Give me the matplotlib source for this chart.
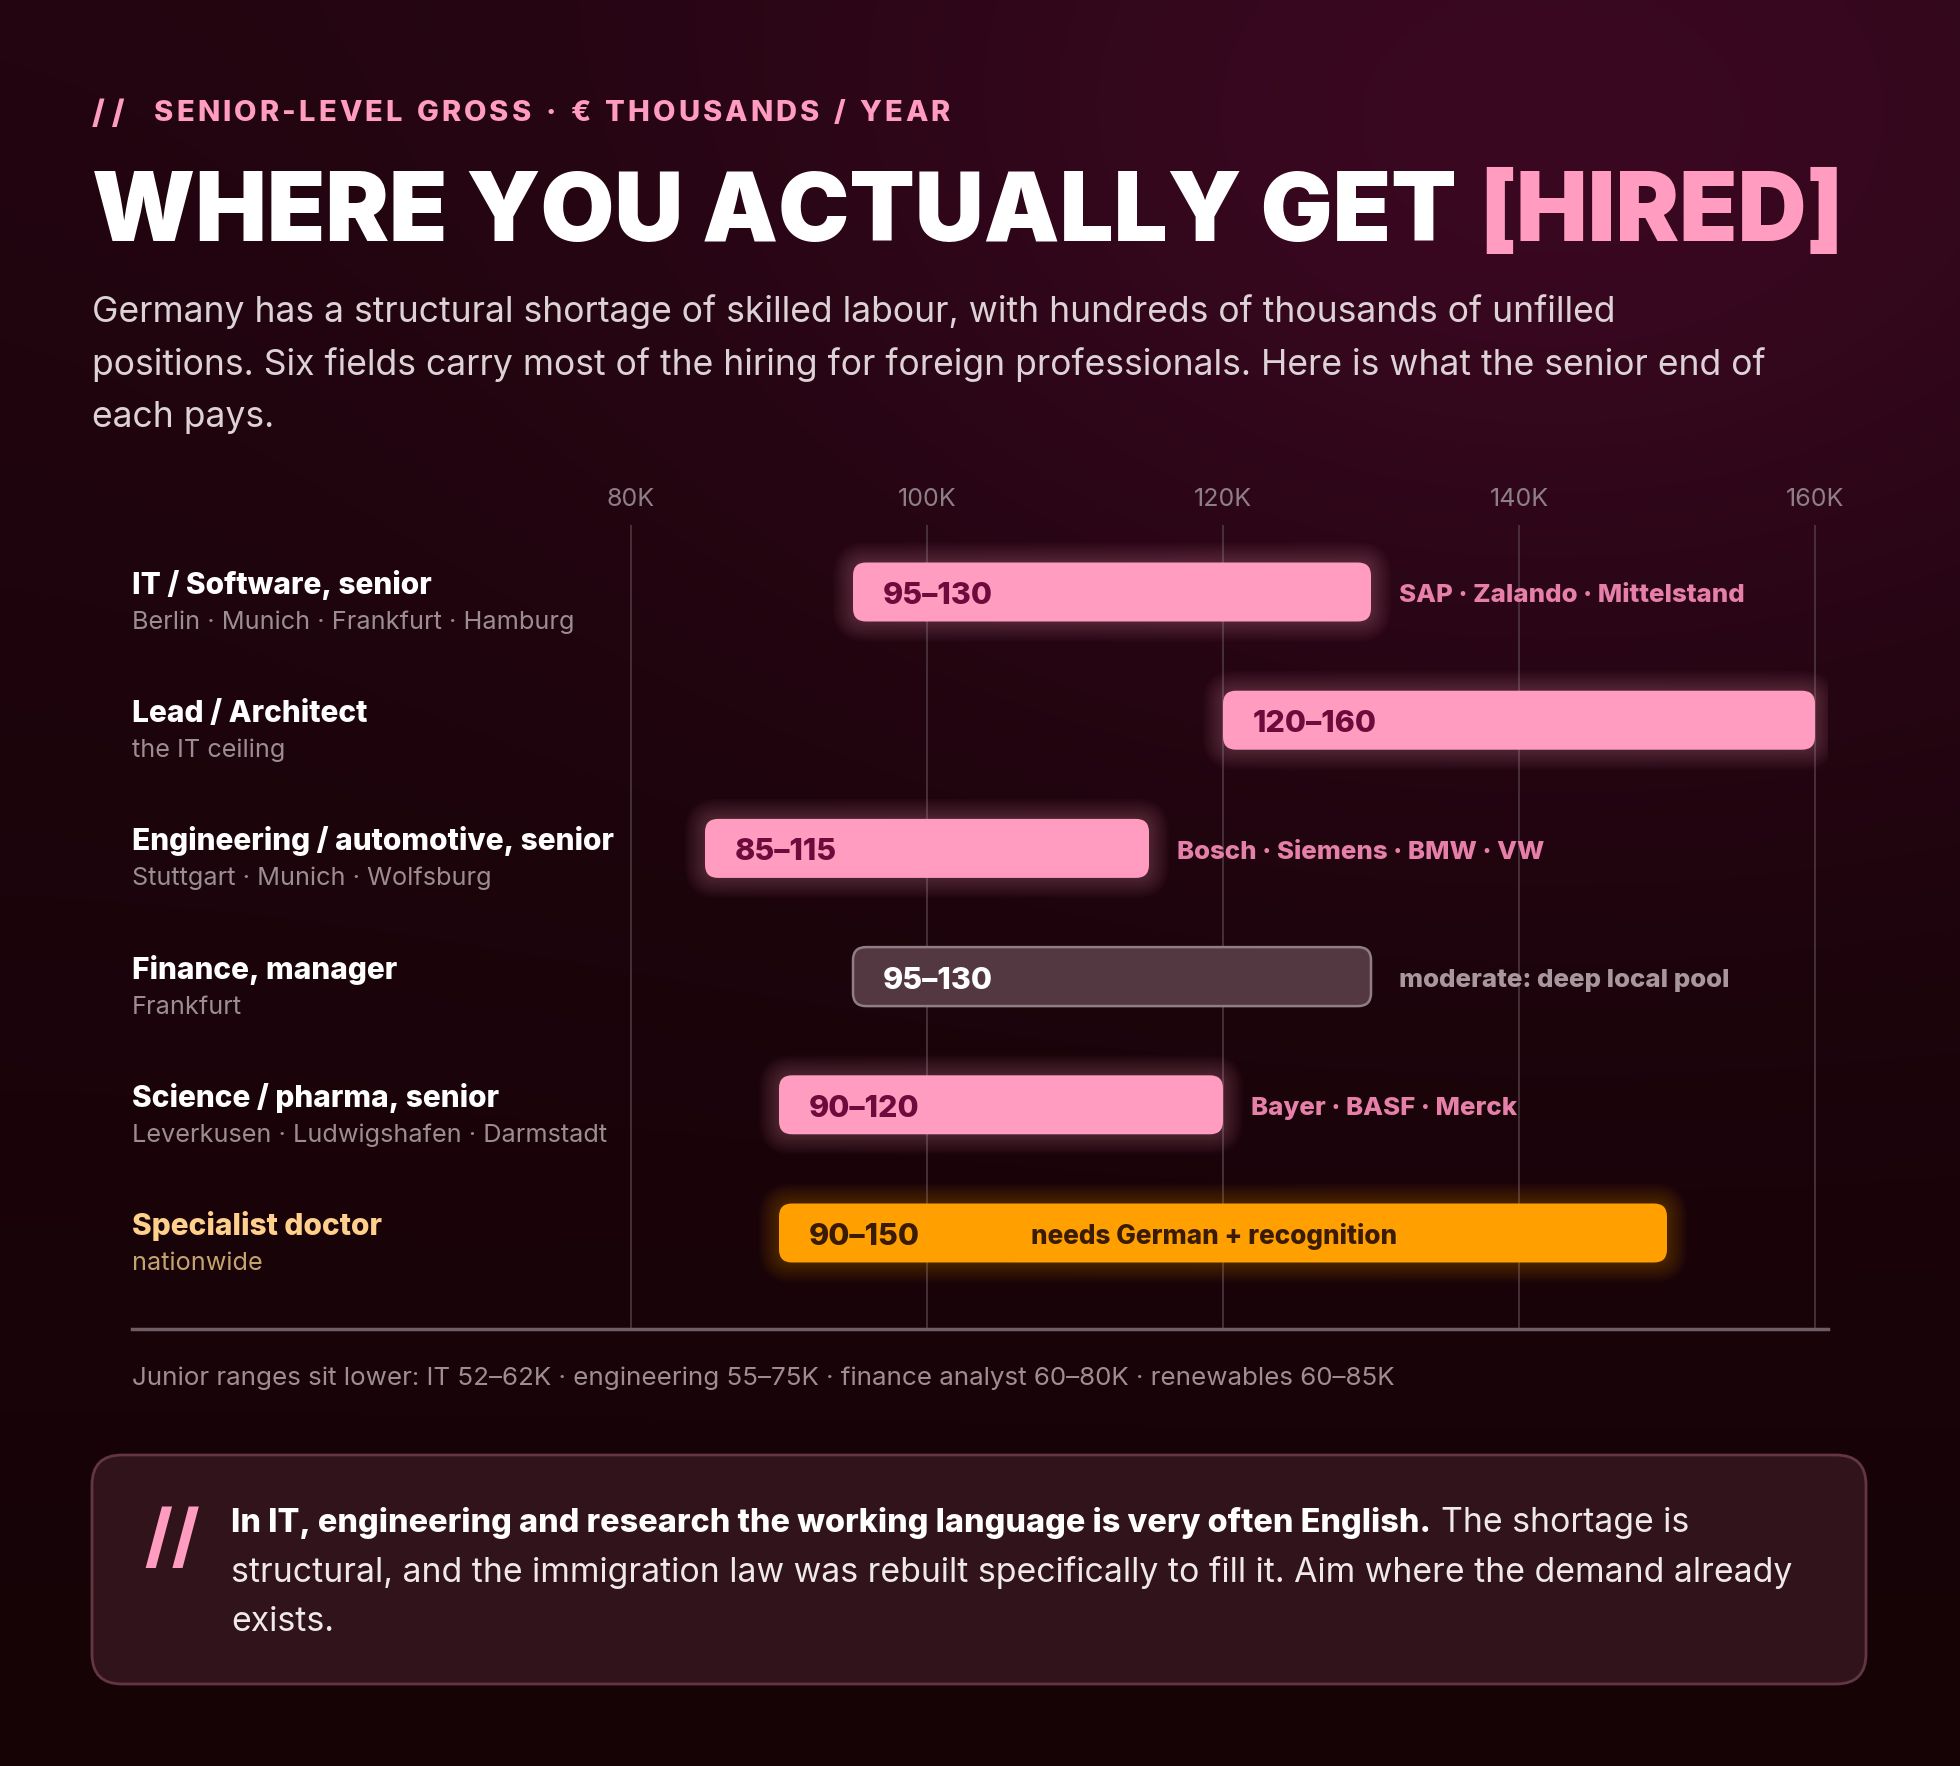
import matplotlib
matplotlib.use('Agg')
import matplotlib.pyplot as plt
import matplotlib.transforms as mtransforms
import numpy as np
from matplotlib.patches import FancyBboxPatch

W, H, DPI = 1960, 1766, 100
FONT = 'Inter'

# data
categories = ['IT / Software, senior', 'Lead / Architect', 'Engineering / automotive, senior',
              'Finance, manager', 'Science / pharma, senior', 'Specialist doctor']
locations = ['Berlin · Munich · Frankfurt · Hamburg', 'the IT ceiling', 'Stuttgart · Munich · Wolfsburg',
             'Frankfurt', 'Leverkusen · Ludwigshafen · Darmstadt', 'nationwide']
low = [95, 120, 85, 95, 90, 90]
high = [130, 160, 115, 130, 120, 150]
notes = ['SAP · Zalando · Mittelstand', '', 'Bosch · Siemens · BMW · VW',
         'moderate: deep local pool', 'Bayer · BASF · Merck', 'needs German + recognition']
kinds = ['hot', 'hot', 'hot', 'moderate', 'hot', 'doctor']
ticks = [80, 100, 120, 140, 160]
tick_labels = ['80K', '100K', '120K', '140K', '160K']

PINK = '#ff9cc0'
ORANGE = '#ffa000'

fig = plt.figure(figsize=(W / DPI, H / DPI), dpi=DPI)
renderer = fig.canvas.get_renderer()

# background in pixel coords
bg = fig.add_axes([0, 0, 1, 1])
bg.set_xlim(0, W)
bg.set_ylim(H, 0)
bg.axis('off')
yy, xx = np.mgrid[0:H:6, 0:W:6]
top = np.array([0x22, 0x05, 0x10]) / 255
bot = np.array([0x15, 0x03, 0x06]) / 255
hot = np.array([0x3a, 0x08, 0x21]) / 255
v = (yy / H)[..., None]
base = top * (1 - v) + bot * v
d2 = ((xx - 1550) / 1000.0) ** 2 + ((yy - 120) / 700.0) ** 2
g = np.exp(-d2 * 1.6)[..., None]
img = base * (1 - g) + hot * g
bg.imshow(img, extent=(0, W, H, 0), aspect='auto', interpolation='bilinear', zorder=0)


def width_px(t):
    return t.get_window_extent(renderer).width


def fit_size(text, target, **kw):
    t = bg.text(0, 0, text, fontsize=20, **kw)
    w = width_px(t)
    t.remove()
    return 20 * target / w


# kicker with letter spacing
kick = 'SENIOR-LEVEL GROSS · € THOUSANDS / YEAR'
bg.text(92, 123, '/ /', fontsize=23, fontweight='heavy', family=FONT, color=PINK)
ks = 21
chars = []
nat = 0
for ch in kick:
    t = bg.text(0, 0, ch, fontsize=ks, fontweight='heavy', family=FONT)
    w = width_px(t) if ch != ' ' else ks * 0.28 * DPI / 72
    t.remove()
    chars.append((ch, w))
    nat += w
track = (950 - 154 - nat) / (len(kick) - 1)
x = 154
for ch, w in chars:
    if ch != ' ':
        bg.text(x, 121, ch, fontsize=ks, fontweight='heavy', family=FONT, color=PINK)
    x += w + track

# title
part1 = 'WHERE YOU ACTUALLY GET'
tsize = fit_size(part1, 1362, fontweight='black', family=FONT)
bg.text(92, 241, part1, fontsize=tsize, fontweight='black', family=FONT, color='white')
bg.text(1479, 241, '[HIRED]', fontsize=tsize, fontweight='black', family=FONT, color=PINK)

# description
desc = ['Germany has a structural shortage of skilled labour, with hundreds of thousands of unfilled',
        'positions. Six fields carry most of the hiring for foreign professionals. Here is what the senior end of',
        'each pays.']
dsize = fit_size(desc[0], 1525, family=FONT)
for i, line in enumerate(desc):
    bg.text(92, 322 + i * 52.5, line, fontsize=dsize, family=FONT, color='#ddd2d6')

# chart axes
X0 = 80 - (631 - 132) * 20 / 296
X1 = 160 + (1828 - 1815) * 20 / 296
Y0 = -67 / 128.2
Y1 = 5 + 96 / 128.2
ax = fig.add_axes([132 / W, 1 - 1329 / H, (1828 - 132) / W, (1329 - 525) / H])
ax.set_facecolor('none')
ax.set_xlim(X0, X1)
ax.set_ylim(Y1, Y0)
ppx = (1828 - 132) / (X1 - X0)
ppy = (1329 - 525) / (Y1 - Y0)
asp = ppx / ppy

for s in ['top', 'left', 'right']:
    ax.spines[s].set_visible(False)
ax.spines['bottom'].set_color('#6e5d64')
ax.spines['bottom'].set_linewidth(2.5)
ax.set_yticks([])
ax.xaxis.tick_top()
ax.set_xticks(ticks)
ax.set_xticklabels(tick_labels, family=FONT, fontsize=18, color='#8e7f86')
ax.tick_params(axis='x', length=0, pad=10)
for t in ticks:
    ax.axvline(t, color='#4d3742', lw=1.2, zorder=1)


def rbar(x0, y, w, h_px, pad_px, r_px, **kw):
    h = h_px / ppy
    p = FancyBboxPatch((x0, y - h / 2), w, h,
                       boxstyle=f'round,pad={pad_px / ppx},rounding_size={(r_px + pad_px) / ppx}',
                       mutation_aspect=asp, **kw)
    ax.add_patch(p)


BAR_H = 59
lab_tr = mtransforms.blended_transform_factory(ax.transAxes, ax.transData)
txt_tr = mtransforms.offset_copy(ax.transData, fig=fig, x=0, y=-4, units='dots')
for i in range(len(categories)):
    lo, hi, kind = low[i], high[i], kinds[i]
    if kind == 'hot':
        fc, ec, lc, nc, glow = PINK, 'none', '#6e0b3d', '#e780a9', PINK
        tc, sc = 'white', '#9c8d93'
    elif kind == 'moderate':
        fc, ec, lc, nc, glow = '#533841', '#8f7e86', 'white', '#a8989e', None
        tc, sc = 'white', '#9c8d93'
    else:
        fc, ec, lc, nc, glow = ORANGE, 'none', '#3a1c06', '#3a1c06', ORANGE
        tc, sc = '#ffd08c', '#c5a36f'
    if glow:
        for k in range(1, 11):
            rbar(lo, i, hi - lo, BAR_H, k * 2.0, 13, facecolor=glow, edgecolor='none',
                 alpha=0.022, zorder=2)
    rbar(lo, i, hi - lo, BAR_H, 0, 13, facecolor=fc, edgecolor=ec, lw=1.8, zorder=3)
    ax.text(lo + 30 / ppx, i, f'{lo}–{hi}', transform=txt_tr, va='center', ha='left', family=FONT,
            fontweight='heavy', fontsize=22, color=lc, zorder=4)
    if kind == 'doctor':
        ax.text(lo + 252 / ppx, i, notes[i], transform=txt_tr, va='center', ha='left', family=FONT,
                fontweight='heavy', fontsize=18.8, color=nc, zorder=4)
    elif notes[i]:
        ax.text(hi + 28 / ppx, i, notes[i], transform=txt_tr, va='center', ha='left', family=FONT,
                fontweight='heavy', fontsize=18.6, color=nc, zorder=4)
    ax.text(0, i, categories[i], transform=mtransforms.offset_copy(lab_tr, fig=fig, x=0, y=-2, units='dots'),
            va='baseline', ha='left', family=FONT, fontweight='heavy', fontsize=21.5, color=tc)
    ax.text(0, i, locations[i], transform=mtransforms.offset_copy(lab_tr, fig=fig, x=0, y=-37, units='dots'),
            va='baseline', ha='left', family=FONT, fontsize=18.2, color=sc)

# footnote
bg.text(132, 1385, 'Junior ranges sit lower: IT 52–62K · engineering 55–75K · finance analyst 60–80K · renewables 60–85K',
        fontsize=18.7, family=FONT, color='#9e8e94')

# callout box
box = FancyBboxPatch((92, 1455), 1774, 229, boxstyle='round,pad=0,rounding_size=30',
                     facecolor='#31141b', edgecolor='#633545', lw=2, zorder=1)
bg.add_patch(box)
bg.text(144, 1560, '//', fontsize=50, fontweight='heavy', family=FONT, color=PINK, zorder=2)
bold_part = 'In IT, engineering and research the working language is very often English.'
csize = fit_size('structural, and the immigration law was rebuilt specifically to fill it. Aim where the demand already',
                 1559, family=FONT)
bsize = fit_size(bold_part, 1195, fontweight='heavy', family=FONT)
tb = bg.text(231, 1532, bold_part, fontsize=bsize, fontweight='heavy', family=FONT, color='white', zorder=2)
bx = bg.transData.inverted().transform((tb.get_window_extent(renderer).x1, 0))[0]
bg.text(bx + 10, 1532, 'The shortage is', fontsize=csize, family=FONT, color='#f0e9eb', zorder=2)
bg.text(231, 1582, 'structural, and the immigration law was rebuilt specifically to fill it. Aim where the demand already',
        fontsize=csize, family=FONT, color='#f0e9eb', zorder=2)
bg.text(231, 1631, 'exists.', fontsize=csize, family=FONT, color='#f0e9eb', zorder=2)

fig.savefig('out.png', dpi=DPI)
